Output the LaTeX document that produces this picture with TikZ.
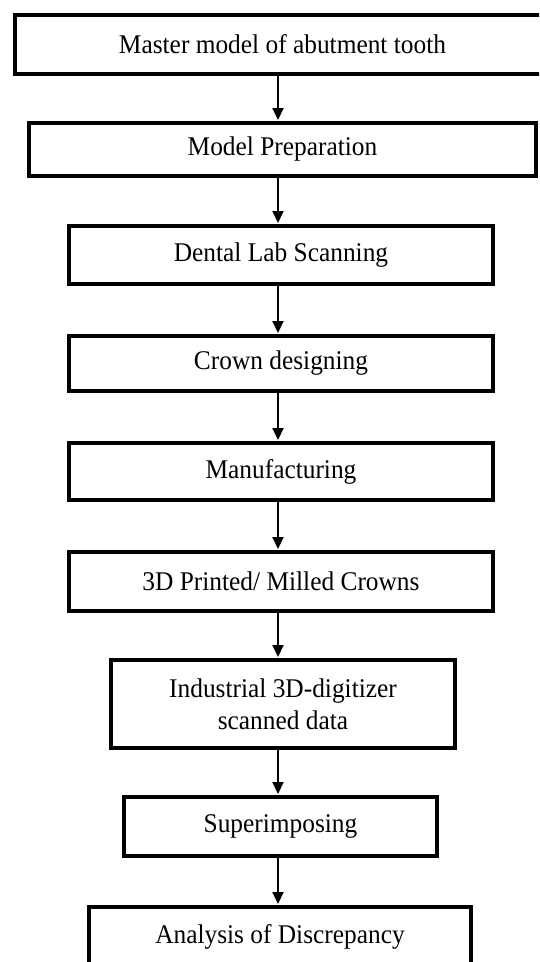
\documentclass[tikz,border=0pt]{standalone}
\usepackage{fontspec}
\usepackage{graphicx}
\setmainfont{Liberation Serif}
\usetikzlibrary{arrows.meta}
\newcommand{\sqz}[1]{\scalebox{0.94}[1]{#1}}
\begin{document}
\begin{tikzpicture}[x=1pt,y=-1pt,
  stepbox/.style={draw=black, line width=4pt, fill=white, inner sep=0pt,
    font=\fontsize{27}{32}\selectfont, align=center},
  arr/.style={draw=black, line width=2pt, -{Triangle[length=12pt,width=11pt]}, shorten >=1pt}]
\useasboundingbox (0,0) rectangle (539,962);
\clip (0,0) rectangle (539,962);
\fill[white] (0,0) rectangle (539,962);
\node[stepbox, minimum width=535pt, minimum height=59pt] (b1) at (282.5,44.5) {\sqz{Master model of abutment tooth}};
\node[stepbox, minimum width=507pt, minimum height=53pt] (b2) at (282.5,149.5) {\sqz{Model Preparation}};
\node[stepbox, minimum width=424pt, minimum height=58pt] (b3) at (281,255) {\sqz{Dental Lab Scanning}};
\node[stepbox, minimum width=424pt, minimum height=55pt] (b4) at (281,363.5) {\sqz{Crown designing}};
\node[stepbox, minimum width=424pt, minimum height=57pt] (b5) at (281,471.5) {\sqz{Manufacturing}};
\node[stepbox, minimum width=424pt, minimum height=59pt] (b6) at (281,581.5) {\sqz{3D Printed/ Milled Crowns}};
\node[stepbox, minimum width=344pt, minimum height=88pt] (b7) at (283,704) {\sqz{Industrial 3D-digitizer}\\\sqz{scanned data}};
\node[stepbox, minimum width=313pt, minimum height=59pt] (b8) at (280.5,826.5) {\sqz{Superimposing}};
\node[stepbox, minimum width=382pt, minimum height=59pt] (b9) at (280,936.5) {\sqz{Analysis of Discrepancy}};
\coordinate (ax) at (278,0);
\foreach \a/\b in {b1/b2,b2/b3,b3/b4,b4/b5,b5/b6,b6/b7,b7/b8,b8/b9}
  \draw[arr] (\a.south -| ax) -- (\b.north -| ax);
\end{tikzpicture}
\end{document}
